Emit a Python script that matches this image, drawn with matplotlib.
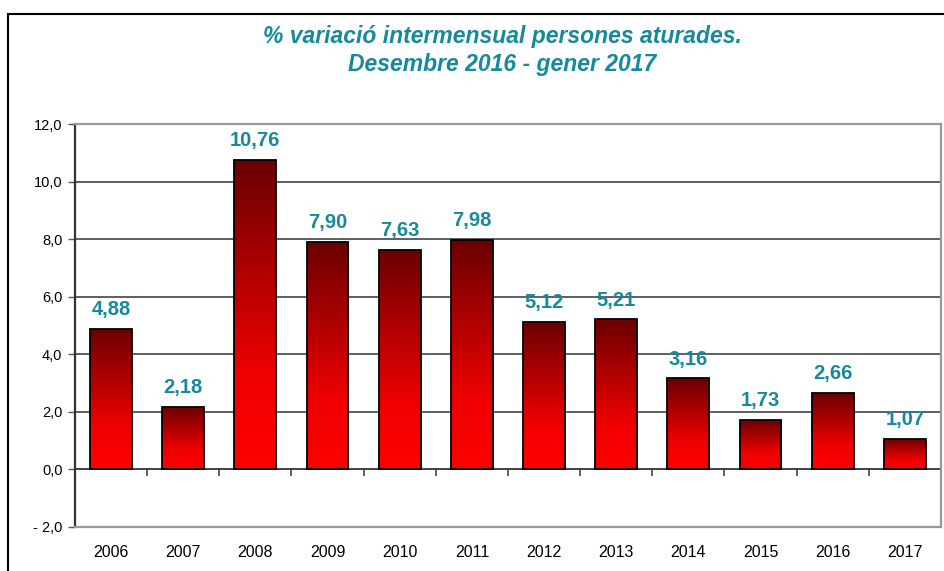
import matplotlib
matplotlib.use("Agg")
import matplotlib.pyplot as plt
import numpy as np
from matplotlib.patches import Rectangle
from matplotlib.colors import LinearSegmentedColormap

years = ["2006", "2007", "2008", "2009", "2010", "2011", "2012", "2013", "2014", "2015", "2016", "2017"]
values = [4.88, 2.18, 10.76, 7.90, 7.63, 7.98, 5.12, 5.21, 3.16, 1.73, 2.66, 1.07]
yticks = [-2, 0, 2, 4, 6, 8, 10, 12]
title_lines = ["% variació intermensual persones aturades.", "Desembre 2016 - gener 2017"]

plt.rcParams['font.family'] = ['Liberation Sans', 'DejaVu Sans']
teal = "#168A9C"

fig = plt.figure(figsize=(9.44, 5.71), dpi=100)
ax = fig.add_axes([0.0794, 0.0771, 0.9174, 0.7057])

x = np.arange(len(years))
bw = 0.58
cmap = LinearSegmentedColormap.from_list("redgrad", [(0.0, "#FF0000"), (0.3, "#F00000"), (1.0, "#6A0000")])
grad = np.linspace(0, 1, 256).reshape(-1, 1)
bars = ax.bar(x, values, width=bw, color="none", edgecolor="black", linewidth=1.3, zorder=4)
for b in bars:
    x0, y0 = b.get_x(), b.get_y()
    w, h = b.get_width(), b.get_height()
    im = ax.imshow(grad, extent=[x0, x0 + w, y0, y0 + h], origin="lower", aspect="auto",
                   cmap=cmap, zorder=3)
    im.set_clip_path(Rectangle((x0, y0), w, h, transform=ax.transData))

for xi, v in zip(x, values):
    ax.annotate(f"{v:.2f}".replace(".", ","), (xi, v), xytext=(0, 7), textcoords="offset points",
                ha="center", va="bottom", color=teal, fontsize=14.5, fontweight="bold", zorder=5)

ax.set_xlim(-0.5, len(years) - 0.5)
ax.set_ylim(yticks[0], yticks[-1])
ax.set_yticks(yticks)
ax.set_yticklabels([(f"{t:.1f}".replace(".", ",")).replace("-", "- ") for t in yticks], fontsize=10.5)
ax.tick_params(axis="y", direction="out", length=5, width=1, color="#555555", pad=4)
ax.set_xticks(x)
ax.set_xticklabels(years, fontsize=11.5)
ax.tick_params(axis="x", length=0, pad=13)

for t in yticks[1:-1]:
    if t != 0:
        ax.axhline(t, color="#333333", linewidth=1.1, zorder=1)
ax.axhline(0, color="#333333", linewidth=1.3, zorder=2)
ax.vlines(x[:-1] + 0.5, -0.22, 0, color="#333333", linewidth=1.1, zorder=2)

for s in ["top", "right", "bottom"]:
    ax.spines[s].set_color("#999999")
    ax.spines[s].set_linewidth(1.6)
ax.spines["left"].set_color("#333333")
ax.spines["left"].set_linewidth(1.6)

fig.text(0.532, 1 - 36 / 571, title_lines[0], ha="center", va="center", color=teal,
         fontsize=16.5, fontweight="bold", fontstyle="italic")
fig.text(0.532, 1 - 65 / 571, title_lines[1], ha="center", va="center", color=teal,
         fontsize=16.5, fontweight="bold", fontstyle="italic")

fig.patches.append(Rectangle((8 / 944, -0.1), 1.2, 1.1 - 14 / 571, transform=fig.transFigure,
                             fill=False, edgecolor="black", linewidth=1.5))

fig.savefig("out.png", dpi=100)
